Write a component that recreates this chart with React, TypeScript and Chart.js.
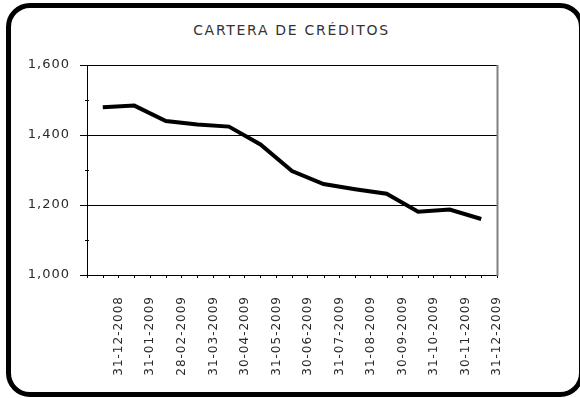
import React, { useEffect, useRef } from "react";
import { Chart, registerables } from "chart.js";

Chart.register(...registerables);

const TITLE = "CARTERA DE CRÉDITOS";
const categories = [
  "31-12-2008", "31-01-2009", "28-02-2009", "31-03-2009", "30-04-2009",
  "31-05-2009", "30-06-2009", "31-07-2009", "31-08-2009", "30-09-2009",
  "31-10-2009", "30-11-2009", "31-12-2009",
];
const cartera = [1479, 1484, 1440, 1430, 1424, 1373, 1297, 1260, 1245, 1232, 1181, 1187, 1160];
const yMin = 1000;
const yMax = 1600;
const yStep = 200;

const decor = {
  id: "decor",
  beforeDraw(chart: any) {
    chart.ctx.letterSpacing = "1px";
  },
  afterDraw(chart: any) {
    const { ctx, chartArea: a, scales } = chart;
    ctx.save();
    ctx.letterSpacing = "0px";
    ctx.strokeStyle = "#808080";
    ctx.lineWidth = 2;
    ctx.beginPath();
    ctx.moveTo(a.right + 0.5, a.top);
    ctx.lineTo(a.right + 0.5, a.bottom + 1);
    ctx.stroke();
    ctx.strokeStyle = "#000";
    ctx.lineWidth = 1;
    const y = scales.y;
    for (let v = yMin + yStep / 2; v < yMax; v += yStep) {
      const py = Math.round(y.getPixelForValue(v)) + 0.5;
      ctx.beginPath();
      ctx.moveTo(a.left - 2, py);
      ctx.lineTo(a.left + 2, py);
      ctx.stroke();
    }
    const x = scales.x;
    categories.forEach((_, i) => {
      const px = Math.round(x.getPixelForValue(i)) + 0.5;
      ctx.beginPath();
      ctx.moveTo(px, a.bottom);
      ctx.lineTo(px, a.bottom + 3);
      ctx.stroke();
    });
    ctx.restore();
    ctx.letterSpacing = "0px";
  },
};

export default function App() {
  const ref = useRef<HTMLCanvasElement>(null);
  useEffect(() => {
    if (!ref.current) return;
    const chart = new Chart(ref.current, {
      type: "line",
      data: {
        labels: categories,
        datasets: [
          {
            label: TITLE,
            data: cartera,
            borderColor: "#000",
            borderWidth: 4,
            pointRadius: 0,
            tension: 0,
            fill: false,
          },
        ],
      },
      options: {
        responsive: false,
        animation: false,
        layout: { padding: { left: 0, right: 83, top: 65, bottom: 0 } },
        plugins: {
          legend: { display: false },
          tooltip: { enabled: false },
          title: { display: false },
        },
        scales: {
          x: {
            type: "category",
            offset: true,
            grid: { offset: true, drawOnChartArea: false, tickLength: 3, color: "#000", lineWidth: 1 },
            border: { color: "#000", width: 1 },
            ticks: {
              autoSkip: false,
              maxRotation: 90,
              minRotation: 90,
              labelOffset: 16,
              padding: 18,
              color: "#2a2a2a",
              font: { family: "DejaVu Sans", size: 12 },
            },
            afterFit: (s: any) => {
              s.height = 123;
              s.paddingLeft = 0;
              s.paddingRight = 0;
            },
          },
          y: {
            min: yMin,
            max: yMax,
            grid: { color: "#000", lineWidth: 1, tickLength: 7 },
            border: { color: "#000", width: 1 },
            ticks: {
              stepSize: yStep,
              padding: 10,
              color: "#2a2a2a",
              font: { family: "DejaVu Sans", size: 13 },
              callback: (v: any) => Number(v).toLocaleString("en-US"),
            },
            afterFit: (s: any) => {
              s.width = 87;
              s.paddingTop = 0;
              s.paddingBottom = 0;
            },
          },
        },
      },
      plugins: [decor],
    });
    return () => chart.destroy();
  }, []);

  return (
    <div style={{ position: "absolute", left: 0, top: 0, width: 580, height: 398, overflow: "hidden", background: "#fff" }}>
      <div
        style={{
          position: "absolute",
          left: 6,
          top: 3,
          width: 578,
          height: 394,
          boxSizing: "border-box",
          border: "5px solid #000",
          borderRadius: 24,
        }}
      />
      <div
        style={{
          position: "absolute",
          left: 0,
          top: 22,
          width: 583,
          textAlign: "center",
          fontFamily: "DejaVu Sans",
          fontSize: 14,
          lineHeight: "16px",
          letterSpacing: "1.7px",
          color: "#333",
        }}
      >
        {TITLE}
      </div>
      <canvas ref={ref} width={580} height={398} style={{ position: "absolute", left: 0, top: 0 }} />
    </div>
  );
}
